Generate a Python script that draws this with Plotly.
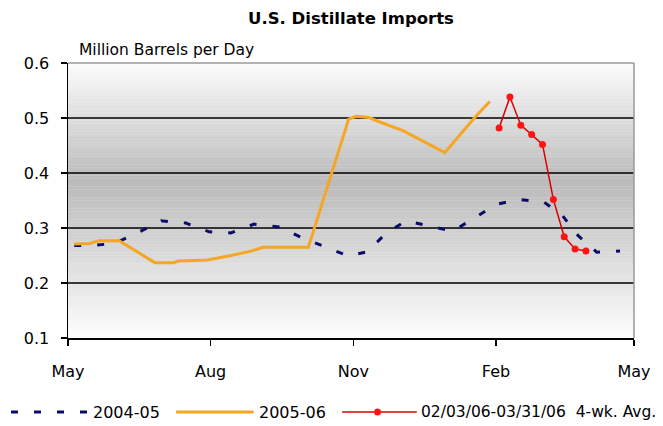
import plotly.graph_objects as go

# ---- data ----
x_0405 = ["2005-05-05", "2005-05-16", "2005-05-31", "2005-06-14", "2005-06-30", "2005-07-16",
          "2005-07-31", "2005-08-14", "2005-08-29", "2005-09-14", "2005-09-29", "2005-10-13",
          "2005-10-29", "2005-11-10", "2005-11-22", "2005-12-05", "2005-12-20", "2006-01-04",
          "2006-01-18", "2006-02-01", "2006-02-16", "2006-03-04", "2006-03-16", "2006-03-26",
          "2006-04-07", "2006-04-22"]
y_0405 = [0.268, 0.268, 0.272, 0.290, 0.313, 0.309, 0.293, 0.291, 0.307, 0.302, 0.282, 0.266,
          0.249, 0.257, 0.290, 0.313, 0.304, 0.294, 0.318, 0.343, 0.352, 0.347, 0.322, 0.286,
          0.256, 0.258]

x_0506 = ["2005-05-05", "2005-05-15", "2005-05-21", "2005-06-03", "2005-06-26", "2005-07-08",
          "2005-07-11", "2005-07-30", "2005-08-14", "2005-08-27", "2005-09-04", "2005-10-03",
          "2005-10-29", "2005-11-03", "2005-11-11", "2005-11-16", "2005-12-03", "2005-12-30",
          "2006-01-18", "2006-01-28"]
y_0506 = [0.271, 0.272, 0.277, 0.277, 0.237, 0.237, 0.240, 0.242, 0.250, 0.258, 0.265, 0.265,
          0.498, 0.503, 0.501, 0.495, 0.477, 0.437, 0.500, 0.530]

x_4wk = ["2006-02-03", "2006-02-10", "2006-02-17", "2006-02-24", "2006-03-03", "2006-03-10",
         "2006-03-17", "2006-03-24", "2006-03-31"]
y_4wk = [0.482, 0.538, 0.487, 0.470, 0.452, 0.352, 0.284, 0.262, 0.258]

tick_dates = ["2005-05-01", "2005-08-01", "2005-11-01", "2006-02-01", "2006-05-01"]
tick_text = ["May", "Aug", "Nov", "Feb", "May"]
y_ticks = [0.1, 0.2, 0.3, 0.4, 0.5, 0.6]

names = ["2004-05", "2005-06", "02/03/06-03/31/06  4-wk. Avg."]
NAVY = "#0b0b6b"
ORANGE = "#F5A623"
RED_LINE = "#d80000"
RED_MK = "#ff1414"

# ---- geometry (reference pixels) ----
W, H = 663, 426
L, R, T, B = 68, 644, 63, 338
def px(x):
    return (x - L) / (R - L)
def py(y):
    return (B - y) / (B - T)

FONT = "DejaVu Sans"

fig = go.Figure()
fig.add_trace(go.Scatter(x=x_0405, y=y_0405, mode="lines", name=names[0],
                         line=dict(color=NAVY, width=3, dash="7px,16px"), showlegend=False))
fig.add_trace(go.Scatter(x=x_0506, y=y_0506, mode="lines", name=names[1],
                         line=dict(color=ORANGE, width=3), showlegend=False))
fig.add_trace(go.Scatter(x=x_4wk, y=y_4wk, mode="lines+markers", name=names[2],
                         line=dict(color=RED_LINE, width=1.5),
                         marker=dict(color=RED_MK, size=7), showlegend=False))

shapes = []
# background gradient (white at top/bottom, grey in the middle)
n = 100
lo, hi, mid = 0.1, 0.6, 0.385
for i in range(n):
    v0 = lo + (hi - lo) * i / n
    v1 = lo + (hi - lo) * (i + 1) / n
    vc = (v0 + v1) / 2
    if vc >= mid:
        t = (hi - vc) / (hi - mid)
        g = 252 - (252 - 186) * t
    else:
        t = (vc - lo) / (mid - lo)
        g = 253 - (253 - 186) * t
    g = int(round(g))
    shapes.append(dict(type="rect", xref="paper", yref="y", x0=0, x1=1, y0=v0, y1=v1 + 0.0005,
                       fillcolor=f"rgb({g},{g},{g})", line=dict(width=0), layer="below"))
# grid lines
for v in y_ticks[1:-1]:
    shapes.append(dict(type="line", xref="paper", yref="y", x0=0, x1=1, y0=v, y1=v,
                       line=dict(color="black", width=1.5), layer="below"))
# top / right border (grey)
shapes.append(dict(type="line", xref="paper", yref="paper", x0=0, x1=1, y0=1, y1=1,
                   line=dict(color="#9a9a9a", width=1.5), layer="below"))
shapes.append(dict(type="line", xref="paper", yref="paper", x0=1, x1=1, y0=0, y1=1,
                   line=dict(color="#9a9a9a", width=1.5), layer="below"))

# manual legend
ly = py(412)
shapes.append(dict(type="line", xref="paper", yref="paper", x0=px(10), x1=px(88), y0=ly, y1=ly,
                   line=dict(color=NAVY, width=3, dash="7px,16px")))
shapes.append(dict(type="line", xref="paper", yref="paper", x0=px(178), x1=px(257), y0=ly, y1=ly,
                   line=dict(color=ORANGE, width=3)))
shapes.append(dict(type="line", xref="paper", yref="paper", x0=px(347), x1=px(423), y0=ly, y1=ly,
                   line=dict(color=RED_LINE, width=1.5)))
shapes.append(dict(type="circle", xref="paper", yref="paper", x0=px(379.5), x1=px(386.5),
                   y0=py(415.5), y1=py(408.5), fillcolor=RED_MK, line=dict(width=0)))

annotations = [
    dict(text="Million Barrels per Day", xref="paper", yref="paper", x=px(77), y=py(50),
         xanchor="left", yanchor="middle", showarrow=False,
         font=dict(family=FONT, size=15.5, color="black")),
    dict(text=names[0], xref="paper", yref="paper", x=px(91), y=ly, xanchor="left",
         yanchor="middle", showarrow=False, font=dict(family=FONT, size=16, color="black")),
    dict(text=names[1], xref="paper", yref="paper", x=px(260), y=ly, xanchor="left",
         yanchor="middle", showarrow=False, font=dict(family=FONT, size=16, color="black")),
    dict(text=names[2].replace("  ", "&nbsp; "), xref="paper", yref="paper", x=px(425), y=ly,
         xanchor="left", yanchor="middle", showarrow=False,
         font=dict(family=FONT, size=15.5, color="black")),
]

fig.update_layout(
    width=W, height=H,
    margin=dict(l=L, r=W - R, t=T, b=H - B, pad=0),
    paper_bgcolor="white", plot_bgcolor="white",
    hovermode=False,
    title=dict(text="<b>U.S. Distillate Imports</b>", x=px(356), xref="paper",
               y=1 - 18 / H, yref="container", xanchor="center", yanchor="middle",
               font=dict(family=FONT, size=16.5, color="black")),
    shapes=shapes, annotations=annotations, showlegend=False,
    xaxis=dict(type="date", range=["2005-05-01", "2006-05-01"], tickvals=tick_dates,
               ticktext=tick_text, showgrid=False, zeroline=False,
               showline=True, linecolor="black", linewidth=1.5,
               ticks="outside", ticklen=6, tickwidth=1.5, tickcolor="black",
               ticklabelstandoff=12,
               tickfont=dict(family=FONT, size=16, color="black")),
    yaxis=dict(range=[0.1, 0.6], tickvals=y_ticks, tickformat=".1f", showgrid=False,
               zeroline=False, showline=True, linecolor="black", linewidth=1.5,
               ticks="outside", ticklen=6, tickwidth=1.5, tickcolor="black",
               ticklabelstandoff=8,
               tickfont=dict(family=FONT, size=16, color="black")),
)

fig.write_html("out.html", config={"displayModeBar": False, "staticPlot": True},
               post_script="document.body.style.margin='0';document.body.style.overflow='hidden';")
